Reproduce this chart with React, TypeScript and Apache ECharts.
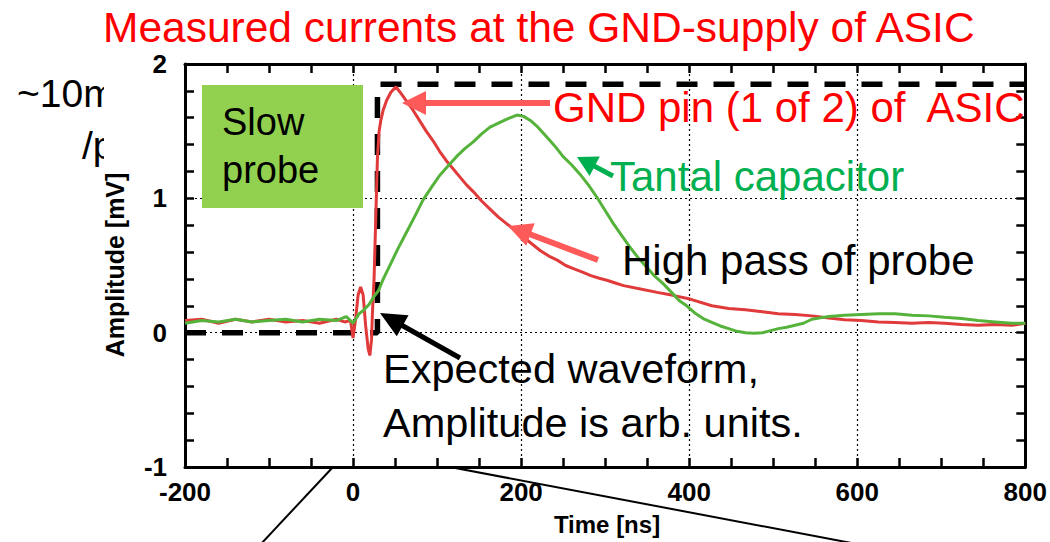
import React, { useEffect, useRef } from "react";
import * as echarts from "echarts";

// Time axis ticks [ns] and amplitude ticks [mV]
const timeTicks = [-200, 0, 200, 400, 600, 800];
const ampTicks = [-1, 0, 1, 2];

// GND pin (1 of 2) of ASIC: [time ns, amplitude mV]
const gndPin: [number, number][] = [
  [-200, 0.09], [-180, 0.1], [-160, 0.07], [-140, 0.1], [-120, 0.08], [-100, 0.1],
  [-80, 0.08], [-60, 0.09], [-40, 0.07], [-20, 0.1], [-10, 0.08], [-3, 0.09],
  [0, -0.04], [3, 0.1], [6, 0.28], [9, 0.34], [12, 0.28], [15, 0.05], [18, -0.12],
  [20, -0.17], [22, -0.05], [23, 0.14], [25, 0.4], [27, 0.85], [29, 1.3], [31, 1.5],
  [33, 1.58], [36, 1.66], [40, 1.73], [45, 1.79], [51, 1.83], [56, 1.79], [63, 1.73],
  [71, 1.66], [79, 1.58], [87, 1.5], [95, 1.43], [103, 1.35], [111, 1.28], [119, 1.22],
  [127, 1.16], [135, 1.1], [143, 1.05], [153, 0.98], [163, 0.92], [173, 0.86],
  [183, 0.81], [193, 0.76], [203, 0.71], [213, 0.66], [223, 0.61], [233, 0.57],
  [243, 0.54], [253, 0.5], [263, 0.475], [273, 0.45], [283, 0.425], [293, 0.405],
  [302, 0.39], [312, 0.37], [322, 0.35], [342, 0.325], [362, 0.3], [382, 0.276],
  [401, 0.25], [427, 0.2], [447, 0.18], [467, 0.17], [487, 0.155], [506, 0.14],
  [526, 0.135], [546, 0.125], [566, 0.11], [585, 0.097], [605, 0.09], [625, 0.08],
  [645, 0.075], [665, 0.07], [685, 0.075], [704, 0.07], [724, 0.06], [744, 0.055],
  [764, 0.06], [784, 0.055], [800, 0.07],
];

// Tantal capacitor: [time ns, amplitude mV]
const tantal: [number, number][] = [
  [-200, 0.07], [-180, 0.09], [-160, 0.08], [-140, 0.1], [-120, 0.08], [-100, 0.09],
  [-80, 0.1], [-60, 0.08], [-40, 0.1], [-20, 0.09], [-8, 0.12], [0, 0.07], [7, 0.14],
  [13, 0.17], [19, 0.21], [25, 0.27], [30, 0.31], [36, 0.4], [43, 0.49], [53, 0.62],
  [63, 0.74], [73, 0.86], [83, 0.985], [93, 1.08], [103, 1.17], [113, 1.24], [123, 1.31],
  [133, 1.37], [143, 1.42], [153, 1.48], [163, 1.53], [173, 1.56], [183, 1.59],
  [195, 1.62], [203, 1.61], [211, 1.58], [220, 1.53], [230, 1.46], [240, 1.39],
  [250, 1.31], [260, 1.25], [270, 1.18], [280, 1.1], [290, 1.01], [300, 0.91],
  [310, 0.81], [320, 0.72], [329, 0.64], [339, 0.56], [349, 0.49], [359, 0.42],
  [369, 0.365], [379, 0.3], [388, 0.24], [397, 0.2], [408, 0.14], [418, 0.1],
  [427, 0.077], [437, 0.05], [447, 0.03], [457, 0.01], [467, 0.0], [477, -0.005],
  [487, 0.0], [497, 0.015], [506, 0.03], [516, 0.04], [526, 0.055], [536, 0.07],
  [546, 0.1], [556, 0.11], [566, 0.12], [585, 0.13], [605, 0.135], [625, 0.14],
  [645, 0.14], [665, 0.13], [685, 0.125], [704, 0.115], [724, 0.105], [744, 0.09],
  [764, 0.08], [784, 0.07], [800, 0.07],
];

// Expected (ideal) step waveform, arbitrary amplitude
const stepTime = 29;
const stepLevel = 1.85;
const expected: [number, number][] = [
  [-200, 0], [stepTime, 0], [stepTime, stepLevel], [800, stepLevel],
];

const FONT = "'Liberation Sans', Arial, Helvetica, sans-serif";

function arrow(
  tail: [number, number],
  tip: [number, number],
  color: string,
  width: number,
  headLen: number,
  headHalf: number
) {
  const dx = tip[0] - tail[0];
  const dy = tip[1] - tail[1];
  const len = Math.hypot(dx, dy);
  const ux = dx / len;
  const uy = dy / len;
  const nx = -uy;
  const ny = ux;
  const bx = tip[0] - ux * headLen;
  const by = tip[1] - uy * headLen;
  return [
    {
      type: "line",
      z: 20,
      shape: { x1: tail[0], y1: tail[1], x2: bx + ux * 2, y2: by + uy * 2 },
      style: { stroke: color, lineWidth: width },
    },
    {
      type: "polygon",
      z: 20,
      shape: {
        points: [
          [tip[0], tip[1]],
          [bx + nx * headHalf, by + ny * headHalf],
          [bx - nx * headHalf, by - ny * headHalf],
        ],
      },
      style: { fill: color },
    },
  ];
}

export default function App() {
  const ref = useRef<HTMLDivElement>(null);

  useEffect(() => {
    if (!ref.current) return;
    const chart = echarts.init(ref.current, undefined, { renderer: "svg" });

    const tickLabel = {
      fontFamily: FONT,
      fontWeight: "bold",
      fontSize: 26,
      color: "#000",
    };
    const axisLine = { show: true, onZero: false, lineStyle: { color: "#000", width: 3 } };
    const tick = { show: true, inside: true, length: 9, lineStyle: { color: "#000", width: 2.5 } };
    const minor = (n: number) => ({
      show: true,
      splitNumber: n,
      length: 9,
      lineStyle: { color: "#000", width: 2.5 },
    });
    const grid = { show: true, lineStyle: { color: "#000", width: 1.2, type: [2, 3] } };

    const salmon = "#ff5a5a";

    chart.setOption({
      animation: false,
      backgroundColor: "#fff",
      grid: { left: 185, right: 22, top: 64, bottom: 75, containLabel: false },
      xAxis: [
        {
          type: "value",
          min: timeTicks[0],
          max: timeTicks[timeTicks.length - 1],
          interval: timeTicks[1] - timeTicks[0],
          position: "bottom",
          axisLine,
          axisTick: tick,
          minorTick: minor(4),
          splitLine: grid,
          axisLabel: { ...tickLabel, margin: 12 },
        },
        {
          type: "value",
          min: timeTicks[0],
          max: timeTicks[timeTicks.length - 1],
          interval: timeTicks[1] - timeTicks[0],
          position: "top",
          axisLine,
          axisTick: tick,
          minorTick: minor(4),
          splitLine: { show: false },
          axisLabel: { show: false },
        },
      ],
      yAxis: [
        {
          type: "value",
          min: ampTicks[0],
          max: ampTicks[ampTicks.length - 1],
          interval: ampTicks[1] - ampTicks[0],
          position: "left",
          axisLine,
          axisTick: tick,
          minorTick: minor(5),
          splitLine: grid,
          axisLabel: { ...tickLabel, margin: 18 },
        },
        {
          type: "value",
          min: ampTicks[0],
          max: ampTicks[ampTicks.length - 1],
          interval: ampTicks[1] - ampTicks[0],
          position: "right",
          axisLine,
          axisTick: tick,
          minorTick: minor(5),
          splitLine: { show: false },
          axisLabel: { show: false },
        },
      ],
      series: [
        {
          name: "Expected waveform",
          type: "line",
          data: expected,
          showSymbol: false,
          z: 2,
          lineStyle: { color: "#000", width: 5.5, type: [21, 16] },
        },
        {
          name: "GND pin (1 of 2) of ASIC",
          type: "line",
          data: gndPin,
          showSymbol: false,
          z: 3,
          lineStyle: { color: "#e03a3a", width: 3 },
        },
        {
          name: "Tantal capacitor",
          type: "line",
          data: tantal,
          showSymbol: false,
          z: 4,
          lineStyle: { color: "#55b33b", width: 3 },
        },
      ],
      graphic: [
        {
          type: "text",
          x: 103,
          y: 27,
          style: {
            text: "Measured currents at the GND-supply of ASIC",
            fill: "#ff0000",
            font: `42.5px ${FONT}`,
            align: "left",
            verticalAlign: "middle",
          },
        },
        {
          type: "text",
          x: 17,
          y: 93,
          z: 1,
          style: { text: "~10m", fill: "#000", font: `39px ${FONT}`, align: "left", verticalAlign: "middle" },
        },
        {
          type: "text",
          x: 82,
          y: 145,
          z: 1,
          style: { text: "/p", fill: "#000", font: `39px ${FONT}`, align: "left", verticalAlign: "middle" },
        },
        {
          type: "rect",
          z: 2,
          shape: { x: 104, y: 68, width: 40, height: 110 },
          style: { fill: "#fff" },
        },
        {
          type: "rect",
          z: 10,
          shape: { x: 202, y: 85, width: 161, height: 123 },
          style: { fill: "#92d050" },
        },
        {
          type: "text",
          x: 222,
          y: 146,
          z: 11,
          style: {
            text: "Slow\nprobe",
            fill: "#000",
            font: `38px ${FONT}`,
            lineHeight: 48,
            align: "left",
            verticalAlign: "middle",
          },
        },
        {
          type: "text",
          x: 553,
          y: 107,
          z: 11,
          style: {
            text: "GND pin (1 of 2) of  ASIC",
            fill: "#ff0000",
            font: `42px ${FONT}`,
            align: "left",
            verticalAlign: "middle",
          },
        },
        {
          type: "text",
          x: 610,
          y: 176,
          z: 11,
          style: {
            text: "Tantal capacitor",
            fill: "#00b050",
            font: `42px ${FONT}`,
            align: "left",
            verticalAlign: "middle",
          },
        },
        {
          type: "text",
          x: 622,
          y: 260,
          z: 11,
          style: {
            text: "High pass of probe",
            fill: "#000",
            font: `42px ${FONT}`,
            align: "left",
            verticalAlign: "middle",
          },
        },
        {
          type: "text",
          x: 383,
          y: 395,
          z: 11,
          style: {
            text: "Expected waveform,\nAmplitude is arb. units.",
            fill: "#000",
            font: `41.5px ${FONT}`,
            lineHeight: 54,
            align: "left",
            verticalAlign: "middle",
          },
        },
        ...arrow([550, 103], [402, 103], salmon, 6, 24, 12),
        ...arrow([598, 260], [508, 226], salmon, 6, 24, 12),
        ...arrow([613, 176], [577, 157], "#00b050", 5, 20, 11),
        ...arrow([460, 358], [380, 313], "#000", 5, 26, 12),
        {
          type: "text",
          x: 115,
          y: 265,
          z: 5,
          rotation: Math.PI / 2,
          style: {
            text: "Amplitude [mV]",
            fill: "#000",
            font: `bold 25px ${FONT}`,
            align: "center",
            verticalAlign: "middle",
          },
        },
        {
          type: "text",
          x: 607,
          y: 524,
          style: {
            text: "Time [ns]",
            fill: "#000",
            font: `bold 24px ${FONT}`,
            align: "center",
            verticalAlign: "middle",
          },
        },
        {
          type: "line",
          z: 5,
          shape: { x1: 333, y1: 467, x2: 260, y2: 545 },
          style: { stroke: "#000", lineWidth: 2 },
        },
        {
          type: "line",
          z: 5,
          shape: { x1: 450, y1: 467, x2: 862, y2: 545 },
          style: { stroke: "#000", lineWidth: 2 },
        },
      ],
    });

    return () => chart.dispose();
  }, []);

  return (
    <div
      ref={ref}
      style={{ position: "absolute", left: 0, top: 0, width: 1050, height: 542 }}
    />
  );
}
